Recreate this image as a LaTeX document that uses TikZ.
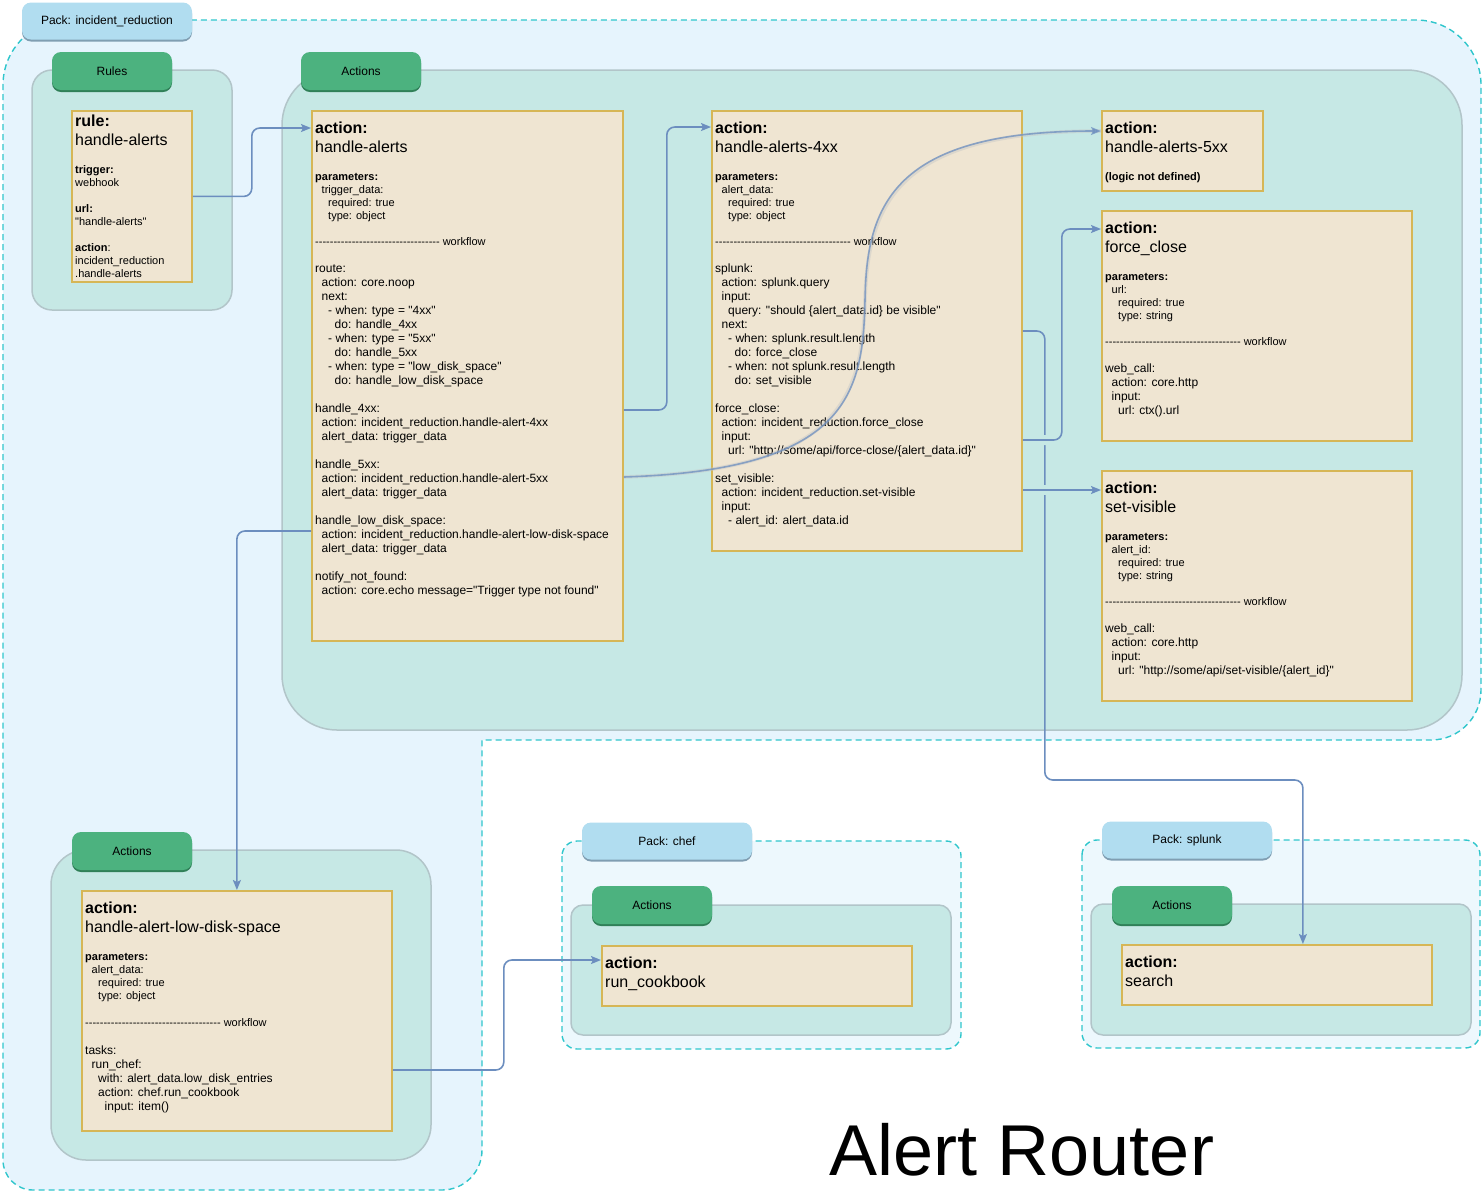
\documentclass[tikz,border=0pt]{standalone}
\usepackage{fontspec}
\newfontfamily\lsans{Liberation Sans}
\usetikzlibrary{arrows.meta,shadows}

\definecolor{packbg}{RGB}{230,244,253}
\definecolor{packbgb}{RGB}{237,248,253}
\definecolor{packline}{RGB}{48,198,204}
\definecolor{groupbg}{RGB}{198,232,229}
\definecolor{groupline}{RGB}{178,197,201}
\definecolor{boxbg}{RGB}{239,229,210}
\definecolor{boxline}{RGB}{214,182,86}
\definecolor{tabgreen}{RGB}{76,178,127}
\definecolor{tabgreendk}{RGB}{48,128,88}
\definecolor{tabblue}{RGB}{177,221,240}
\definecolor{tabbluedk}{RGB}{128,158,178}
\definecolor{linkblue}{RGB}{108,142,191}

\newcommand{\lvl}{\hspace*{6.5pt}}
\newcommand{\wfline}{----------------------------------\ workflow}
\newcommand{\wflong}{-------------------------------------\ workflow}

\begin{document}
\begin{tikzpicture}[x=1pt, y=-1pt,
  pack/.style={draw=packline, line width=1.4pt, dash pattern=on 6pt off 4pt},
  group/.style={draw=groupline, fill=groupbg, line width=1.5pt},
  abox/.style={draw=boxline, fill=boxbg, line width=1.8pt, anchor=north west, inner sep=0pt},
  tab/.style={fill=tabgreen, rounded corners=9pt, minimum width=120pt, minimum height=38pt,
    font=\lsans\fontsize{12}{14}\selectfont, general shadow={fill=tabgreendk, shadow yshift=-2pt}},
  packtab/.style={fill=tabblue, rounded corners=9pt, minimum width=170pt, minimum height=37pt,
    font=\lsans\fontsize{12}{14}\selectfont, general shadow={fill=tabbluedk, shadow yshift=-2pt}},
  title/.style={anchor=north west, inner sep=0pt, align=left, font=\lsans\fontsize{16}{19}\selectfont},
  params/.style={anchor=north west, inner sep=0pt, align=left, font=\lsans\fontsize{11}{13}\selectfont},
  body/.style={anchor=north west, inner sep=0pt, align=left, font=\lsans\fontsize{12}{14}\selectfont},
  link/.style={draw=linkblue, line width=1.6pt, rounded corners=8pt, -{Stealth[length=10pt, width=8pt, inset=2pt]}},
  jump/.style={preaction={draw=groupbg, line width=10pt, -, shorten <=9pt, shorten >=9pt}},
  ghost/.style={draw=gray!45, line width=3.6pt, opacity=0.45}
]
\useasboundingbox (0,0) rectangle (1483,1195);

% packs
\draw[pack, fill=packbg, rounded corners=65pt] (3,600) -- (3,20) -- (1481,20)
  [rounded corners=50pt] -- (1481,740) [sharp corners] -- (482,740)
  [rounded corners=40pt] -- (482,1190) [rounded corners=30pt] -- (3,1190) -- cycle;
\draw[pack, fill=packbgb, rounded corners=15pt] (562,841) rectangle (961,1049);
\draw[pack, fill=packbgb, rounded corners=15pt] (1082,840) rectangle (1480,1048);

% groups
\draw[group, rounded corners=20pt] (32,70) rectangle (232,310);
\draw[group, rounded corners=55pt] (282,70) rectangle (1462,730);
\draw[group, rounded corners=35pt] (51,850) rectangle (431,1160);
\draw[group, rounded corners=12pt] (571,905) rectangle (951,1035);
\draw[group, rounded corners=12pt] (1091,904) rectangle (1471,1035);

% tabs
\node[packtab] (irPack) at (107,21) {Pack: incident\_reduction};
\node[tab] (rulesTab) at (112,71) {Rules};
\node[tab] (actTab) at (361,71) {Actions};
\node[tab] (lowTab) at (132,851) {Actions};
\node[packtab] (chefPack) at (667,841) {Pack: chef};
\node[tab] (chefTab) at (652,905) {Actions};
\node[packtab] (splunkPack) at (1187,840) {Pack: splunk};
\node[tab] (splunkTab) at (1172,905) {Actions};

% rule
\node[abox, minimum width=120pt, minimum height=171pt] (rule) at (71,110) {};
\node[title] (ruleTitle) at ([xshift=4pt,yshift=-3pt]rule.north west) {\strut\textbf{rule:}\\handle-alerts};
\node[params] (ruleText) at ([xshift=4pt,yshift=-54pt]rule.north west) {\strut\textbf{trigger:}\\webhook\\[13pt]
  \textbf{url:}\\"handle-alerts"\\[13pt]
  \textbf{action}:\\incident\_reduction\\.handle-alerts};

% handle-alerts
\node[abox, minimum width=311pt, minimum height=530pt] (hA) at (311,110) {};
\node[title] (hATitle) at ([xshift=4pt,yshift=-10pt]hA.north west) {\strut\textbf{action:}\\handle-alerts};
\node[params] (hAParams) at ([xshift=4pt,yshift=-61pt]hA.north west) {\strut\textbf{parameters:}\\
  \lvl trigger\_data:\\ \lvl\lvl required: true\\ \lvl\lvl type: object};
\node[params] (hAFlow) at ([xshift=4pt,yshift=-126pt]hA.north west) {\strut\wfline};
\node[body] (hABody) at ([xshift=4pt,yshift=-152pt]hA.north west) {\strut route:\\
  \lvl action: core.noop\\
  \lvl next:\\
  \lvl\lvl - when: type = "4xx"\\
  \lvl\lvl\lvl do: handle\_4xx\\
  \lvl\lvl - when: type = "5xx"\\
  \lvl\lvl\lvl do: handle\_5xx\\
  \lvl\lvl - when: type = "low\_disk\_space"\\
  \lvl\lvl\lvl do: handle\_low\_disk\_space\\[14pt]
  handle\_4xx:\\
  \lvl action: incident\_reduction.handle-alert-4xx\\
  \lvl alert\_data: trigger\_data\\[14pt]
  handle\_5xx:\\
  \lvl action: incident\_reduction.handle-alert-5xx\\
  \lvl alert\_data: trigger\_data\\[14pt]
  handle\_low\_disk\_space:\\
  \lvl action: incident\_reduction.handle-alert-low-disk-space\\
  \lvl alert\_data: trigger\_data\\[14pt]
  notify\_not\_found:\\
  \lvl action: core.echo message="Trigger type not found"};

% handle-alerts-4xx
\node[abox, minimum width=310pt, minimum height=440pt] (h4) at (711,110) {};
\node[title] (h4Title) at ([xshift=4pt,yshift=-10pt]h4.north west) {\strut\textbf{action:}\\handle-alerts-4xx};
\node[params] (h4Params) at ([xshift=4pt,yshift=-61pt]h4.north west) {\strut\textbf{parameters:}\\
  \lvl alert\_data:\\ \lvl\lvl required: true\\ \lvl\lvl type: object};
\node[params] (h4Flow) at ([xshift=4pt,yshift=-126pt]h4.north west) {\strut\wflong};
\node[body] (h4Body) at ([xshift=4pt,yshift=-152pt]h4.north west) {\strut splunk:\\
  \lvl action: splunk.query\\
  \lvl input:\\
  \lvl\lvl query: "should \{alert\_data.id\} be visible"\\
  \lvl next:\\
  \lvl\lvl - when: splunk.result.length\\
  \lvl\lvl\lvl do: force\_close\\
  \lvl\lvl - when: not splunk.result.length\\
  \lvl\lvl\lvl do: set\_visible\\[14pt]
  force\_close:\\
  \lvl action: incident\_reduction.force\_close\\
  \lvl input:\\
  \lvl\lvl url: "http://some/api/force-close/\{alert\_data.id\}"\\[14pt]
  set\_visible:\\
  \lvl action: incident\_reduction.set-visible\\
  \lvl input:\\
  \lvl\lvl - alert\_id: alert\_data.id};

% handle-alerts-5xx
\node[abox, minimum width=161pt, minimum height=80pt] (h5) at (1101,110) {};
\node[title] (h5Title) at ([xshift=4pt,yshift=-10pt]h5.north west) {\strut\textbf{action:}\\handle-alerts-5xx};
\node[params] (h5Text) at ([xshift=4pt,yshift=-61pt]h5.north west) {\strut\textbf{(logic not defined)}};

% force_close
\node[abox, minimum width=310pt, minimum height=230pt] (hF) at (1101,210) {};
\node[title] (hFTitle) at ([xshift=4pt,yshift=-10pt]hF.north west) {\strut\textbf{action:}\\force\_close};
\node[params] (hFParams) at ([xshift=4pt,yshift=-61pt]hF.north west) {\strut\textbf{parameters:}\\
  \lvl url:\\ \lvl\lvl required: true\\ \lvl\lvl type: string};
\node[params] (hFFlow) at ([xshift=4pt,yshift=-126pt]hF.north west) {\strut\wflong};
\node[body] (hFBody) at ([xshift=4pt,yshift=-152pt]hF.north west) {\strut web\_call:\\
  \lvl action: core.http\\ \lvl input:\\ \lvl\lvl url: ctx().url};

% set-visible
\node[abox, minimum width=310pt, minimum height=230pt] (hS) at (1101,470) {};
\node[title] (hSTitle) at ([xshift=4pt,yshift=-10pt]hS.north west) {\strut\textbf{action:}\\set-visible};
\node[params] (hSParams) at ([xshift=4pt,yshift=-61pt]hS.north west) {\strut\textbf{parameters:}\\
  \lvl alert\_id:\\ \lvl\lvl required: true\\ \lvl\lvl type: string};
\node[params] (hSFlow) at ([xshift=4pt,yshift=-126pt]hS.north west) {\strut\wflong};
\node[body] (hSBody) at ([xshift=4pt,yshift=-152pt]hS.north west) {\strut web\_call:\\
  \lvl action: core.http\\ \lvl input:\\ \lvl\lvl url: "http://some/api/set-visible/\{alert\_id\}"};

% handle-alert-low-disk-space
\node[abox, minimum width=310pt, minimum height=240pt] (lowD) at (81,890) {};
\node[title] (lowDTitle) at ([xshift=4pt,yshift=-10pt]lowD.north west) {\strut\textbf{action:}\\handle-alert-low-disk-space};
\node[params] (lowDParams) at ([xshift=4pt,yshift=-61pt]lowD.north west) {\strut\textbf{parameters:}\\
  \lvl alert\_data:\\ \lvl\lvl required: true\\ \lvl\lvl type: object};
\node[params] (lowDFlow) at ([xshift=4pt,yshift=-127pt]lowD.north west) {\strut\wflong};
\node[body] (lowDBody) at ([xshift=4pt,yshift=-154pt]lowD.north west) {\strut tasks:\\
  \lvl run\_chef:\\
  \lvl\lvl with: alert\_data.low\_disk\_entries\\
  \lvl\lvl action: chef.run\_cookbook\\
  \lvl\lvl\lvl input: item()};

% chef / splunk
\node[abox, minimum width=310pt, minimum height=60pt] (cook) at (601,945) {};
\node[title] (cookTitle) at ([xshift=4pt,yshift=-10pt]cook.north west) {\strut\textbf{action:}\\run\_cookbook};
\node[abox, minimum width=310pt, minimum height=60pt] (search) at (1121,944) {};
\node[title] (searchTitle) at ([xshift=4pt,yshift=-10pt]search.north west) {\strut\textbf{action:}\\search};

\node[anchor=base, inner sep=0pt, font=\lsans\fontsize{72}{80}\selectfont] (routerTitle) at (1022,1175) {Alert Router};

% connectors
\draw[link] (rule.east) -- ++(59,0) |- ([yshift=-18pt]hA.north west);
\draw[link] ([yshift=-300pt]hA.north east) -- ++(43,0) |- ([yshift=-17pt]h4.north west);
\draw[ghost] ([yshift=-367pt]hA.north east) .. controls (840,470) and (862,400) .. (865,300)
  .. controls (868,200) and (900,131) .. ([yshift=-21pt]h5.north west);
\draw[link, opacity=0.75] ([yshift=-367pt]hA.north east) .. controls (840,470) and (862,400) .. (865,300)
  .. controls (868,200) and (900,131) .. ([yshift=-21pt]h5.north west);
\draw[link] ([yshift=-221pt]h4.north east) -- ++(22,0) -- ++(0,449) -| ([xshift=26pt]search.north);
\draw[link, jump] ([yshift=-330pt]h4.north east) -- ++(39,0) |- ([yshift=-19pt]hF.north west);
\draw[link, jump] ([yshift=-380pt]h4.north east) -- ([yshift=-20pt]hS.north west);
\draw[link] ([yshift=-421pt]hA.north west) -| (lowD.north);
\draw[link] ([yshift=-180pt]lowD.north east) -- ++(111,0) |- ([yshift=-15pt]cook.north west);
\end{tikzpicture}
\end{document}
